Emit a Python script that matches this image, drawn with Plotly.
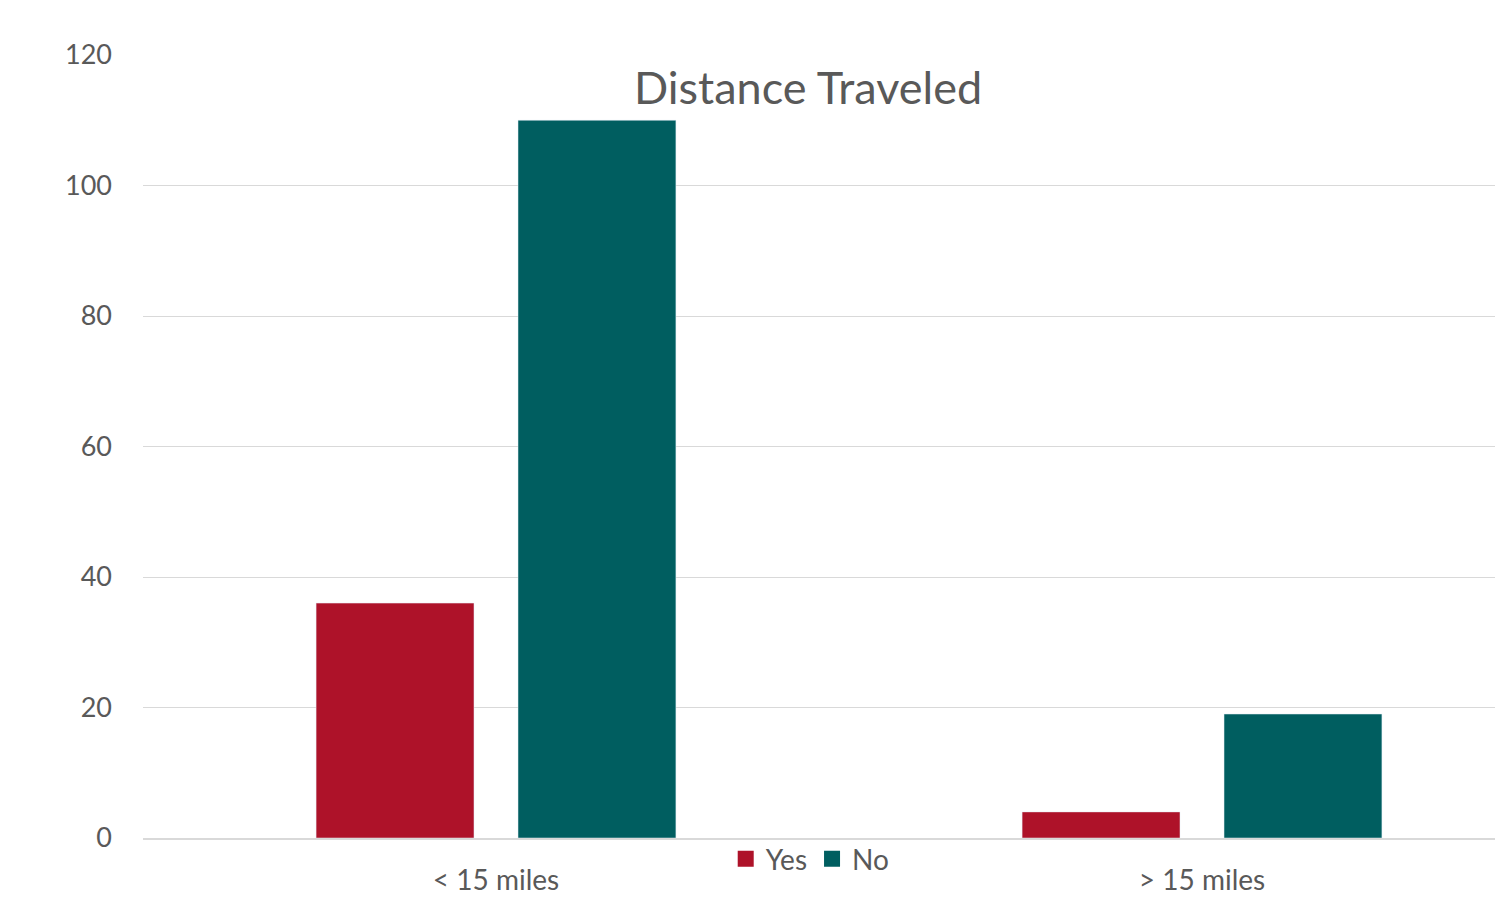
import plotly.graph_objects as go

categories = ["< 15 miles", "> 15 miles"]
yes_values = [36, 4]
no_values = [110, 19]
y_ticks = [0, 20, 40, 60, 80, 100, 120]

series = [("Yes", yes_values, "#AE1229"), ("No", no_values, "#005E60")]

FONT = "Lato, Calibri, Carlito, sans-serif"
TEXT = "#595959"
GRID = "#D9D9D9"

fig = go.Figure()
for name, values, color in series:
    fig.add_trace(go.Bar(name=name, x=categories, y=values, marker_color=color,
                         showlegend=False, legendgroup=name))
# square legend keys
for name, values, color in series:
    fig.add_trace(go.Scatter(name=name, x=[None], y=[None], mode="markers",
                             marker=dict(symbol="square", size=17, color=color),
                             legendgroup=name, showlegend=True))

fig.update_layout(
    width=1495,
    height=904,
    margin=dict(l=143, r=0, t=55, b=66),
    paper_bgcolor="white",
    plot_bgcolor="white",
    barmode="group",
    bargap=0.428,
    bargroupgap=0.218,
    font=dict(family=FONT, color=TEXT, size=28),
    title=dict(
        text="Distance Traveled",
        font=dict(family=FONT, size=45, color=TEXT),
        x=0.5405, xref="container", xanchor="center",
        y=1 - 88 / 904, yref="container", yanchor="middle",
    ),
    legend=dict(
        orientation="h",
        x=0.4935, xanchor="center",
        y=-0.027, yanchor="middle",
        font=dict(family=FONT, size=28, color=TEXT),
        bgcolor="rgba(0,0,0,0)",
        itemwidth=30,
        itemsizing="trace",
        traceorder="normal",
    ),
    showlegend=True,
)

fig.update_xaxes(
    range=[-0.5, 1.415],
    showgrid=False,
    showline=True,
    linecolor=GRID,
    linewidth=2,
    ticks="",
    ticklabelstandoff=16,
    tickfont=dict(family=FONT, size=28, color=TEXT),
)
fig.update_yaxes(
    range=[0, 120],
    tickvals=y_ticks,
    showgrid=True,
    gridcolor=GRID,
    gridwidth=1,
    zeroline=False,
    showline=False,
    ticks="",
    ticklabelstandoff=30,
    tickfont=dict(family=FONT, size=27, color=TEXT),
)

fig.write_html("out.html")
